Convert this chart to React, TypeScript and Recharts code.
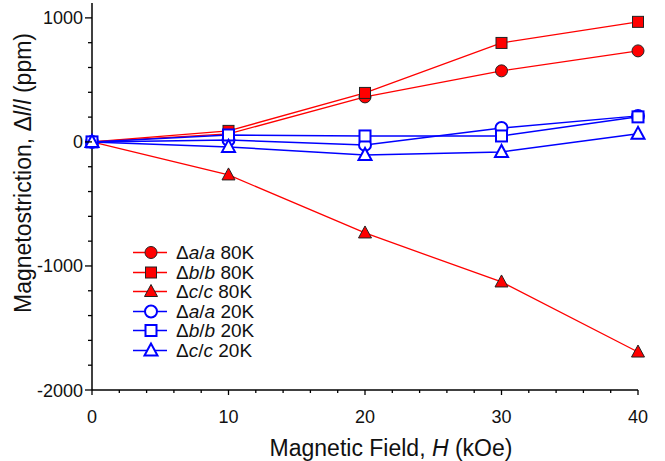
import { LineChart, Line, XAxis, YAxis, Label } from "recharts";

const fieldKOe = [0, 10, 20, 30, 40];
const a80 = [0, 65, 363, 573, 734];
const b80 = [0, 89, 395, 798, 968];
const c80 = [0, -266, -734, -1129, -1694];
const a20 = [0, 15, -24, 112, 210];
const b20 = [0, 56, 48, 48, 202];
const c20 = [0, -40, -105, -81, 65];

const xTicks = [0, 2, 4, 6, 8, 10, 12, 14, 16, 18, 20, 22, 24, 26, 28, 30, 32, 34, 36, 38, 40];
const yTicks = [
  -2000, -1800, -1600, -1400, -1200, -1000, -800, -600, -400, -200, 0, 200, 400, 600, 800, 1000,
];

const data = fieldKOe.map((h, i) => ({
  h,
  a80: a80[i],
  b80: b80[i],
  c80: c80[i],
  a20: a20[i],
  b20: b20[i],
  c20: c20[i],
}));

const RED = "#ff0000";
const BLUE = "#0000ff";
const FONT = "'Liberation Sans', Arial, Helvetica, sans-serif";

type Shape = "circle" | "square" | "triangle";

const series: { key: string; base: string; temp: string; shape: Shape; filled: boolean }[] = [
  { key: "a80", base: "a", temp: "80K", shape: "circle", filled: true },
  { key: "b80", base: "b", temp: "80K", shape: "square", filled: true },
  { key: "c80", base: "c", temp: "80K", shape: "triangle", filled: true },
  { key: "a20", base: "a", temp: "20K", shape: "circle", filled: false },
  { key: "b20", base: "b", temp: "20K", shape: "square", filled: false },
  { key: "c20", base: "c", temp: "20K", shape: "triangle", filled: false },
];

function marker(shape: Shape, filled: boolean, cx: number, cy: number, key?: string | number) {
  const fill = filled ? RED : "#fff";
  const stroke = filled ? "#222" : BLUE;
  const sw = filled ? 1 : 2;
  if (shape === "circle") return <circle key={key} cx={cx} cy={cy} r={6} fill={fill} stroke={stroke} strokeWidth={sw} />;
  if (shape === "square")
    return <rect key={key} x={cx - 5.5} y={cy - 5.5} width={11} height={11} fill={fill} stroke={stroke} strokeWidth={sw} />;
  return (
    <polygon
      key={key}
      points={`${cx},${cy - 7} ${cx - 6.5},${cy + 5} ${cx + 6.5},${cy + 5}`}
      fill={fill}
      stroke={stroke}
      strokeWidth={sw}
    />
  );
}

const YTick = (props: any) => {
  const { x, y, payload } = props;
  const major = payload.value % 1000 === 0;
  return (
    <g>
      <line x1={x - (major ? 7 : 4)} x2={x} y1={y} y2={y} stroke="#000" strokeWidth={1.3} />
      {major && (
        <text x={x - 9} y={y} dy={6.5} textAnchor="end" fontSize={18} fontFamily={FONT} fill="#111">
          {payload.value}
        </text>
      )}
    </g>
  );
};

const XTick = (props: any) => {
  const { x, y, payload } = props;
  const major = payload.value % 10 === 0;
  return (
    <g>
      <line x1={x} x2={x} y1={y} y2={y + (major ? 5 : 3)} stroke="#000" strokeWidth={1.3} />
      {major && (
        <text x={x} y={y + 33} textAnchor="middle" fontSize={18} fontFamily={FONT} fill="#111">
          {payload.value}
        </text>
      )}
    </g>
  );
};

const LegendBox = () => (
  <div
    style={{
      position: "absolute",
      left: 130,
      top: 243,
      fontFamily: FONT,
      fontSize: 19,
      color: "#111",
      lineHeight: "19.5px",
    }}
  >
    {series.map((s) => (
      <div key={s.key} style={{ display: "flex", alignItems: "center", height: 19.5 }}>
        <svg width={46} height={19}>
          <line x1={3} x2={37} y1={9.5} y2={9.5} stroke={s.filled ? RED : BLUE} strokeWidth={1.5} />
          {marker(s.shape, s.filled, 21, 9.5)}
        </svg>
        <span>
          Δ<i>{s.base}</i>/<i>{s.base}</i> {s.temp}
        </span>
      </div>
    ))}
  </div>
);

export default function App() {
  return (
    <div style={{ position: "absolute", left: 0, top: 0, width: 665, height: 461, background: "#fff" }}>
      <LineChart width={665} height={461} data={data} margin={{ top: 3, right: 27, bottom: 0, left: 0 }}>
        <XAxis
          dataKey="h"
          type="number"
          domain={[0, 40]}
          ticks={xTicks}
          interval={0}
          height={71}
          tickSize={0}
          tickMargin={0}
          tick={<XTick />}
          axisLine={{ stroke: "#000", strokeWidth: 1.5 }}
        >
          <Label
            content={() => (
              <text x={391} y={456} textAnchor="middle" fontSize={23} fontFamily={FONT} fill="#111">
                Magnetic Field, <tspan fontStyle="italic">H</tspan> (kOe)
              </text>
            )}
          />
        </XAxis>
        <YAxis
          type="number"
          domain={[-2000, 1120]}
          allowDataOverflow
          ticks={yTicks}
          interval={0}
          width={92}
          tickSize={0}
          tickMargin={0}
          tick={<YTick />}
          axisLine={{ stroke: "#000", strokeWidth: 1.5 }}
        >
          <Label
            content={() => (
              <text
                x={0}
                y={0}
                transform="translate(31,173) rotate(-90)"
                textAnchor="middle"
                fontSize={23}
                fontFamily={FONT}
                fill="#111"
              >
                Magnetostriction, Δ<tspan fontStyle="italic">l</tspan>/<tspan fontStyle="italic">l</tspan> (ppm)
              </text>
            )}
          />
        </YAxis>
        {series.map((s) => (
          <Line
            key={s.key}
            dataKey={s.key}
            stroke={s.filled ? RED : BLUE}
            strokeWidth={s.filled ? 1.3 : 1.5}
            isAnimationActive={false}
            dot={(p: any) => marker(s.shape, s.filled, p.cx, p.cy, `${s.key}-${p.index}`)}
            activeDot={false}
          />
        ))}
      </LineChart>
      <LegendBox />
    </div>
  );
}
